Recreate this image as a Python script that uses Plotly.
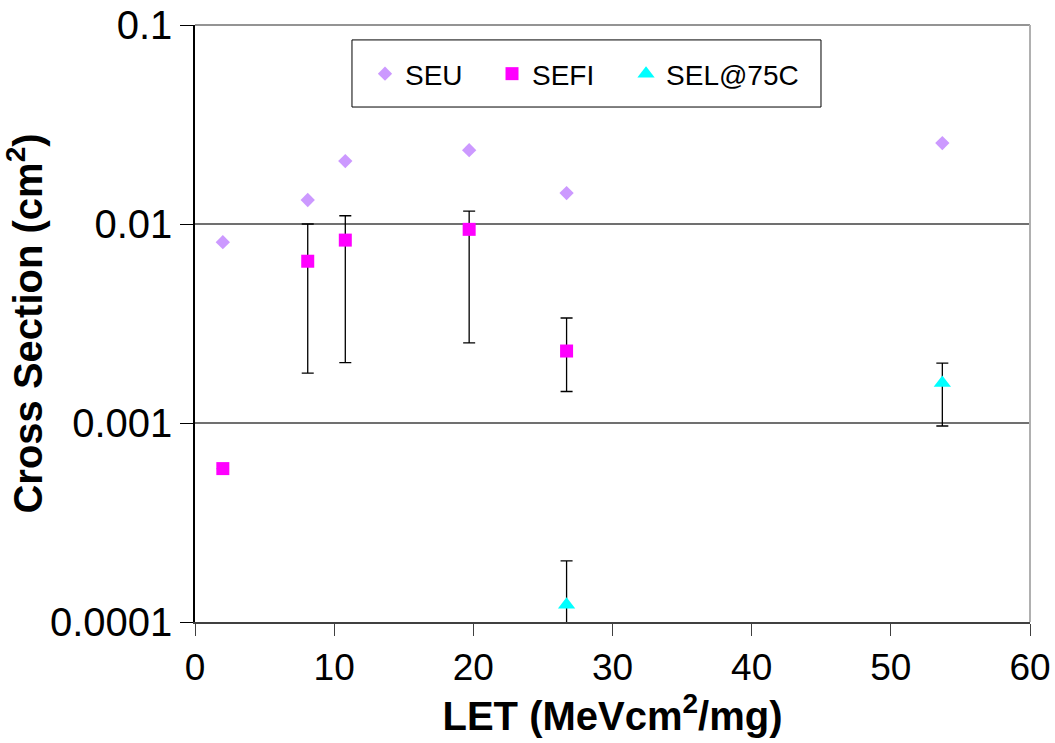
import plotly.graph_objects as go

# Data
seu_x = [2.0, 8.1, 10.8, 19.7, 26.7, 53.7]
seu_y = [0.0081, 0.0132, 0.0207, 0.0235, 0.0143, 0.0255]

sefi_x = [2.0, 8.1, 10.8, 19.7, 26.7]
sefi_y = [0.00059, 0.0065, 0.0083, 0.0094, 0.0023]
sefi_hi = [0.00059, 0.0100, 0.0110, 0.0116, 0.00337]
sefi_lo = [0.00059, 0.00178, 0.00201, 0.00253, 0.00144]

sel_x = [26.7, 53.7]
sel_y = [0.000122, 0.00159]
sel_hi = [0.000203, 0.00200]
sel_lo = [0.00009, 0.000966]

y_tickvals = [0.0001, 0.001, 0.01, 0.1]
y_ticktext = ["0.0001", "0.001", "0.01", "0.1"]
x_tickvals = [0, 10, 20, 30, 40, 50, 60]

FONT = "Liberation Sans, Arial, sans-serif"

def err(y, hi, lo):
    plus = [h - v for v, h in zip(y, hi)]
    minus = [v - l for v, l in zip(y, lo)]
    return plus, minus

sefi_p, sefi_m = err(sefi_y, sefi_hi, sefi_lo)
sel_p, sel_m = err(sel_y, sel_hi, sel_lo)

fig = go.Figure()
fig.add_trace(go.Scatter(
    x=seu_x, y=seu_y, mode="markers", name="SEU", legend="legend",
    marker=dict(symbol="diamond", size=11, color="#CC99FF", line=dict(width=0)),
))
fig.add_trace(go.Scatter(
    x=sefi_x, y=sefi_y, mode="markers", name="SEFI", legend="legend2",
    marker=dict(symbol="square", size=13, color="#FF00FF", line=dict(width=0)),
    error_y=dict(type="data", symmetric=False, array=sefi_p, arrayminus=sefi_m,
                 color="black", thickness=1.3, width=6),
))
fig.add_trace(go.Scatter(
    x=sel_x, y=sel_y, mode="markers", name="SEL@75C", legend="legend3",
    marker=dict(symbol="triangle-up", size=15, color="#00FFFF", line=dict(width=0)),
    error_y=dict(type="data", symmetric=False, array=sel_p, arrayminus=sel_m,
                 color="black", thickness=1.3, width=6),
))

leg_common = dict(
    orientation="h", y=0.918, xanchor="left", yanchor="middle",
    borderwidth=0, bgcolor="rgba(0,0,0,0)",
    font=dict(size=28, family=FONT), itemwidth=30,
)

fig.update_layout(
    width=1055, height=743,
    margin=dict(l=195, r=25, t=25, b=121, autoexpand=False),
    paper_bgcolor="white", plot_bgcolor="white",
    font=dict(family=FONT, color="black"),
    showlegend=True,
    legend=dict(x=0.2036, **leg_common),
    legend2=dict(x=0.3557, **leg_common),
    legend3=dict(x=0.5162, **leg_common),
    xaxis=dict(
        range=[0, 60], tickvals=x_tickvals, showgrid=False,
        showline=True, linecolor="#404040", linewidth=1.5,
        ticks="outside", ticklen=12, tickcolor="#404040",
        tickfont=dict(size=37, family=FONT), automargin=False,
        title=dict(text="<b>LET (MeVcm<sup>2</sup>/mg)</b>", font=dict(size=40, family=FONT), standoff=8),
        zeroline=False,
    ),
    yaxis=dict(
        type="log", range=[-4, -1], tickvals=y_tickvals, ticktext=y_ticktext,
        showgrid=True, gridcolor="#707070", gridwidth=1.5,
        showline=True, linecolor="black", linewidth=1.5,
        ticks="outside", ticklen=13, tickcolor="black",
        tickfont=dict(size=40, family=FONT), automargin=False,
        title=dict(text="<b>Cross Section (cm<sup>2</sup>)</b>", font=dict(size=40, family=FONT), standoff=8),
        zeroline=False,
    ),
    shapes=[
        dict(type="line", xref="paper", yref="paper", x0=0, x1=1, y0=1, y1=1,
             line=dict(color="#707070", width=1.5)),
        dict(type="line", xref="paper", yref="paper", x0=1, x1=1, y0=0, y1=1,
             line=dict(color="#B0B0B0", width=2)),
        dict(type="rect", xref="paper", yref="paper", x0=0.188, x1=0.7497, y0=0.8626, y1=0.975,
             line=dict(color="black", width=1), fillcolor="white", layer="below"),
    ],
)

fig.write_html("out.html", config={"displayModeBar": False},
               post_script="document.body.style.margin='0';")
